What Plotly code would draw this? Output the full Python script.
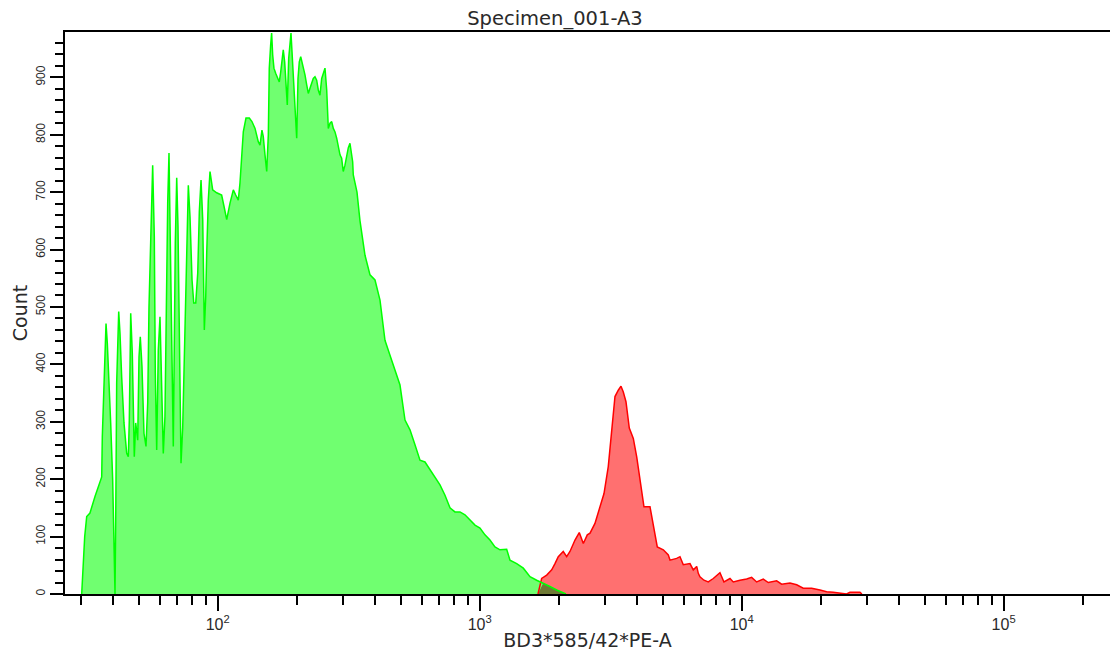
import numpy as np
import plotly.graph_objects as go

# PE-A channel value and event count for the dim (green) population
neg_pe = [30.25, 30.51, 31.06, 31.61, 32.53, 34.0, 35.53, 36.07, 36.26, 36.90, 37.46, 37.89, 38.56, 39.03, 39.72, 40.29, 40.54,
          40.78, 41.14, 41.88, 42.36, 42.99, 43.87, 44.93, 45.57, 45.97, 46.54, 47.20, 48.03, 48.63, 49.49, 50.06, 50.63, 51.39, 52.30, 53.23, 54.04, 54.65, 55.63, 56.45,
          57.27, 57.77, 58.48, 59.31, 60.20, 61.10, 61.97, 62.89, 63.61, 64.42, 65.16, 65.74, 66.73, 67.67, 68.87, 69.73, 70.52, 71.34, 72.42, 73.51,
          74.35, 75.21, 76.14, 77.22, 78.38, 79.79, 80.99, 82.42, 83.88, 85.06, 86.35, 87.65, 88.88, 89.99, 90.78, 92.04, 93.43, 95.67, 99.08, 103.5,
          105.7, 108.2, 111.4, 114.7, 117.1, 119.8, 121.6, 123.4, 125.2, 128.2, 132.0, 135.1, 138.8, 142.8, 145.0, 147.5, 149.2, 151.5, 153.8, 156.0,
          157.3, 159.2, 160.6, 162.1, 163.9, 166.4, 169.3, 171.8, 173.9, 175.9, 177.9, 180.1, 182.2, 184.3, 186.6, 188.7, 190.4, 192.1, 194.3, 197.2,
          200.2, 202.5, 204.8, 207.4, 209.7, 212.2, 215.4, 218.6, 221.7, 225.0, 228.4, 231.6, 235.1, 238.6, 242.0, 245.6, 249.4, 252.9, 256.7, 260.6,
          264.3, 268.3, 272.3, 276.2, 280.3, 284.5, 288.5, 292.9, 297.2, 301.4, 306.0, 310.6, 315.0, 319.7, 322.6, 327.4, 329.2,
          340.1, 349.2, 364.9, 381.3, 398.4, 416.3, 434.9, 454.5, 474.9, 496.3, 518.6, 541.9, 566.2, 591.6, 618.2, 646.0, 675.0, 705.3, 737.0, 770.1,
          804.6, 840.8, 878.6, 918.1, 959.4, 1002.5, 1047.4, 1094.5, 1143.7, 1195.1, 1267.5, 1305, 1384, 1467, 1556, 1650, 1749, 1854, 1967, 2084, 2135]
neg_count = [0, 33, 100, 135, 141, 170, 195, 204, 274, 402, 471, 437, 367, 298, 199, 68, 0,
             123, 368, 492, 454, 378, 298, 245, 239, 303, 489, 419, 239, 298, 268, 413, 448, 396, 280, 257, 333, 500, 663, 747,
             622, 385, 251, 425, 483, 326, 245, 309, 507, 681, 768, 640, 385, 257, 611, 725, 640, 477, 228, 291,
             390, 512, 646, 712, 657, 547, 507, 507, 559, 666, 721, 652, 460, 518, 594, 686, 736, 704, 699, 695,
             675, 652, 681, 704, 695, 686, 716, 771, 805, 829, 829, 823, 811, 788, 782, 808, 797, 765, 736, 800,
             916, 956, 977, 939, 916, 907, 898, 892, 909, 930, 948, 927, 881, 852, 933, 967, 977, 945, 898, 834,
             794, 898, 927, 936, 927, 916, 904, 887, 872, 881, 892, 898, 901, 895, 878, 869, 898, 909, 916, 878,
             811, 820, 823, 811, 805, 794, 777, 765, 759, 736, 747, 762, 777, 785, 771, 753, 730,
             700, 650, 590, 556, 547, 512, 442, 416, 390, 364, 303, 286, 260, 233, 230, 216, 202, 190, 172, 150,
             143, 143, 138, 129, 120, 115, 103, 94, 82, 77, 78, 59, 53, 45, 30, 24, 19, 13, 7, 2, 0]

# PE-A channel value and event count for the bright (red) population
pos_pe = [1669, 1724, 1802, 1883, 1938, 1995, 2084, 2148, 2211, 2311, 2399, 2486, 2575, 2637, 2754, 2878, 2982, 3096, 3190, 3284,
          3381, 3462, 3533, 3617, 3724, 3858, 3975, 4091, 4237, 4467, 4598, 4763, 5022, 5248, 5327, 5648, 5815, 5986, 6349, 6536,
          6735, 6830, 6931, 7179, 7456, 7791, 8262, 8558, 9024, 9288, 9851, 10447, 10916, 11408, 12088, 12635, 13598, 14210, 15289, 16217,
          17182, 18502, 19900, 21104, 22360, 23720, 25160, 25900, 28280, 28780]
pos_count = [0, 27, 33, 42, 53, 65, 74, 65, 74, 94, 107, 88, 103, 106, 123, 152, 175, 222, 286, 344,
             355, 362, 352, 335, 289, 271, 239, 199, 152, 152, 117, 82, 77, 68, 59, 62, 65, 51, 53, 42,
             48, 36, 30, 24, 21, 27, 37, 21, 27, 21, 24, 26, 29, 21, 26, 20, 23, 17, 19, 16,
             10, 10, 7, 4, 3, 2, 0, 3, 3, 0]

assert len(neg_pe) == len(neg_count)
assert len(pos_pe) == len(pos_count)

# Axis ticks
x_major_vals = [100, 1000, 10000, 100000]
x_major_text = ["10<sup>2</sup>", "10<sup>3</sup>", "10<sup>4</sup>", "10<sup>5</sup>"]
x_minor_vals = [30, 40, 50, 60, 70, 80, 90,
                200, 300, 400, 500, 600, 700, 800, 900,
                2000, 3000, 4000, 5000, 6000, 7000, 8000, 9000,
                20000, 30000, 40000, 50000, 60000, 70000, 80000, 90000,
                200000]
y_major_vals = [0, 100, 200, 300, 400, 500, 600, 700, 800, 900]
y_major_text = ["0", "100", "200", "300", "400", "500", "600", "700", "800", "900"]

TITLE_FONT = "DejaVu Sans"
TICK_FONT = "Liberation Sans"
INK = "#2a2a2a"

# Region where both populations overlap (drawn darker, like stacked translucent fills)
neg_pe_arr = np.array(neg_pe, dtype=float)
neg_cnt_arr = np.array(neg_count, dtype=float)
mask = neg_pe_arr >= pos_pe[0]
ov_x = np.concatenate([[pos_pe[0]], neg_pe_arr[mask]])
ov_y = np.minimum(np.interp(ov_x, neg_pe_arr, neg_cnt_arr),
                  np.interp(ov_x, pos_pe, pos_count))

fig = go.Figure()
fig.add_trace(go.Scatter(x=pos_pe, y=pos_count, mode="lines", fill="tozeroy",
                         fillcolor="#ff7070", line=dict(color="rgba(0,0,0,0)", width=0),
                         hoverinfo="skip", showlegend=False))
fig.add_trace(go.Scatter(x=neg_pe, y=neg_count, mode="lines", fill="tozeroy",
                         fillcolor="#70ff70", line=dict(color="rgba(0,0,0,0)", width=0),
                         hoverinfo="skip", showlegend=False))
fig.add_trace(go.Scatter(x=ov_x, y=ov_y, mode="lines", fill="tozeroy",
                         fillcolor="#6f7a35", line=dict(color="rgba(0,0,0,0)", width=0),
                         hoverinfo="skip", showlegend=False))
fig.add_trace(go.Scatter(x=pos_pe, y=pos_count, mode="lines",
                         line=dict(color="#ff0000", width=1.5), showlegend=False))
fig.add_trace(go.Scatter(x=neg_pe, y=neg_count, mode="lines",
                         line=dict(color="#00ff00", width=1.5), showlegend=False))

fig.update_layout(
    width=1110, height=657,
    margin=dict(l=65, r=0, t=32, b=63),
    paper_bgcolor="white", plot_bgcolor="white",
    showlegend=False,
    font=dict(family=TITLE_FONT, color=INK, size=14),
    title=dict(text="Specimen_001-A3", x=0.5, xref="container", xanchor="center",
               y=1 - 18 / 657, yref="container", yanchor="middle",
               font=dict(family=TITLE_FONT, size=19.5, color=INK)),
    xaxis=dict(
        type="log", range=[1.417, 5.406],
        tickmode="array", tickvals=x_major_vals, ticktext=x_major_text,
        ticks="outside", ticklen=15, tickwidth=1.5, tickcolor="black",
        tickfont=dict(family=TICK_FONT, size=16, color=INK),
        minor=dict(tickmode="array", tickvals=x_minor_vals, ticks="outside",
                   ticklen=9, tickwidth=1.5, tickcolor="black", showgrid=False),
        showline=True, linecolor="black", linewidth=1.5, mirror=True,
        showgrid=False, zeroline=False,
        title=dict(text="BD3*585/42*PE-A", font=dict(family=TITLE_FONT, size=19, color=INK), standoff=2),
    ),
    yaxis=dict(
        range=[0, 979],
        tickmode="array", tickvals=y_major_vals, ticktext=y_major_text,
        ticks="outside", ticklen=13, tickwidth=1.5, tickcolor="black",
        tickangle=-90, tickfont=dict(family=TICK_FONT, size=12, color=INK),
        minor=dict(dtick=20, tick0=0, ticks="outside", ticklen=8, tickwidth=1.5,
                   tickcolor="black", showgrid=False),
        showline=True, linecolor="black", linewidth=1.5,
        showgrid=False, zeroline=False,
        title=dict(text="Count", font=dict(family=TITLE_FONT, size=19, color=INK), standoff=2),
    ),
)

fig.write_html("out.html")
